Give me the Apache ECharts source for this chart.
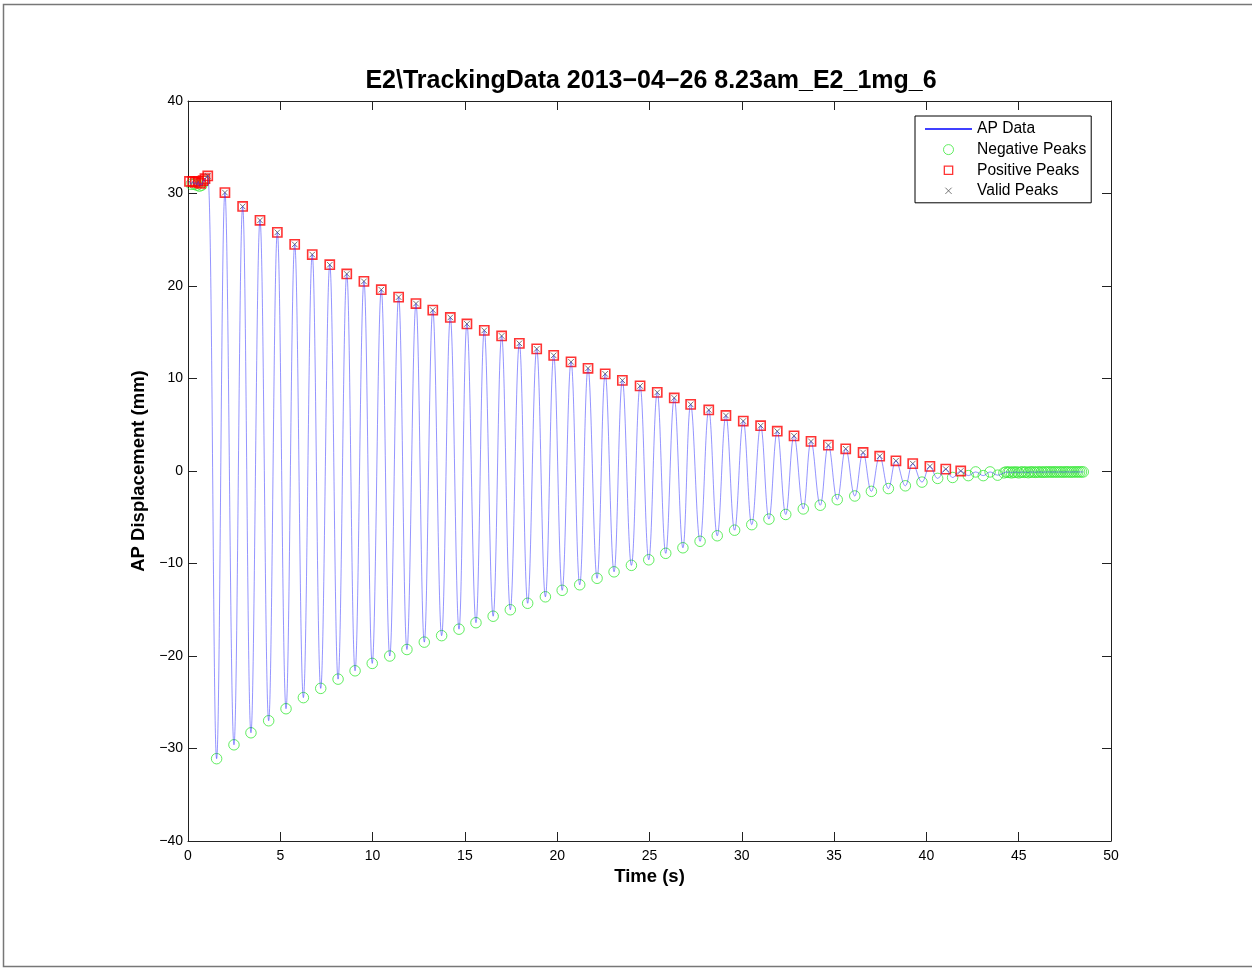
<!DOCTYPE html>
<html>
<head>
<meta charset="utf-8">
<script src="https://cdn.jsdelivr.net/npm/echarts@6/dist/echarts.min.js"></script>
<style>
  html, body { margin: 0; padding: 0; background: #fff; }
  #main { width: 1252px; height: 969px; }
</style>
</head>
<body>
<div id="main"></div>
<script>
// positive peaks (red squares)
var posT = [0.08, 0.25, 0.40, 0.55, 0.68, 0.82, 0.92, 1.07,
  2.00, 2.96, 3.90, 4.84, 5.78, 6.73, 7.68, 8.60, 9.53, 10.47,
  11.41, 12.35, 13.26, 14.21, 15.11, 16.05, 16.99, 17.95, 18.89, 19.81,
  20.75, 21.67, 22.60, 23.53, 24.49, 25.42, 26.34, 27.23, 28.21, 29.14,
  30.08, 31.02, 31.92, 32.83, 33.75, 34.69, 35.63, 36.57, 37.47, 38.35,
  39.26, 40.19, 41.05, 41.86];
var posV = [31.3, 31.3, 31.2, 31.3, 31.1, 31.4, 31.6, 31.9,
  30.1, 28.6, 27.1, 25.8, 24.5, 23.4, 22.3, 21.3, 20.5, 19.6,
  18.8, 18.1, 17.4, 16.6, 15.9, 15.2, 14.6, 13.8, 13.2, 12.5,
  11.8, 11.1, 10.5, 9.8, 9.2, 8.5, 7.9, 7.2, 6.6, 6.0,
  5.4, 4.9, 4.3, 3.8, 3.2, 2.8, 2.4, 2.0, 1.6, 1.1,
  0.8, 0.5, 0.2, 0.0];

// negative peaks (green circles)
var negT = [0.17, 0.33, 0.48, 0.62, 0.75, 0.88,
  1.55, 2.49, 3.41, 4.37, 5.31, 6.25, 7.19, 8.13, 9.05, 9.98,
  10.93, 11.86, 12.80, 13.74, 14.68, 15.60, 16.53, 17.46, 18.40, 19.36,
  20.27, 21.22, 22.16, 23.08, 24.02, 24.96, 25.88, 26.81, 27.74, 28.67,
  29.61, 30.54, 31.47, 32.38, 33.33, 34.25, 35.17, 36.12, 37.02, 37.94,
  38.86, 39.76, 40.61, 41.42, 42.27, 42.67, 43.08, 43.45, 43.86, 44.20,
  44.31, 44.42, 44.50, 44.61, 44.70, 44.79, 44.91, 45.00, 45.12, 45.20,
  45.31, 45.40, 45.52, 45.61, 45.70, 45.81, 45.90, 46.01, 46.10, 46.22,
  46.30, 46.41, 46.50, 46.60, 46.71, 46.80, 46.91, 47.00, 47.10, 47.21,
  47.30, 47.40, 47.51, 47.60, 47.70, 47.81, 47.90, 48.00, 48.11, 48.20,
  48.30, 48.40, 48.50];
var negV = [31.0, 31.0, 30.9, 30.8, 30.9, 31.3,
  -31.1, -29.6, -28.3, -27.0, -25.7, -24.5, -23.5, -22.5, -21.6, -20.8,
  -20.0, -19.3, -18.5, -17.8, -17.1, -16.4, -15.7, -15.0, -14.3, -13.6,
  -12.9, -12.3, -11.6, -10.9, -10.2, -9.6, -8.9, -8.3, -7.6, -7.0,
  -6.4, -5.8, -5.2, -4.7, -4.1, -3.7, -3.1, -2.7, -2.2, -1.9,
  -1.6, -1.2, -0.8, -0.7, -0.5, -0.1, -0.5, -0.1, -0.45, -0.2,
  -0.1, -0.15, -0.1, -0.2, -0.1, -0.15, -0.1, -0.2, -0.12, -0.1,
  -0.15, -0.1, -0.18, -0.1, -0.12, -0.1, -0.15, -0.1, -0.12, -0.1,
  -0.14, -0.1, -0.12, -0.1, -0.1, -0.12, -0.1, -0.1, -0.12, -0.1,
  -0.1, -0.12, -0.1, -0.1, -0.1, -0.12, -0.1, -0.1, -0.1, -0.1,
  -0.1, -0.1, -0.1];

// valid peaks (grey crosses) start at the first real swing
var validT = posT.slice(7);
var validV = posV.slice(7);

var xTicks = { min: 0, max: 50, interval: 5 };
var yTicks = { min: -40, max: 40, interval: 10 };

function pairs(t, v) {
  var out = [];
  for (var i = 0; i < t.length; i++) out.push([t[i], v[i]]);
  return out;
}

// AP data trace: start value plus all peaks in time order
var apData = pairs([0], [31.2]).concat(pairs(posT, posV), pairs(negT, negV));
apData.sort(function (a, b) { return a[0] - b[0]; });

var FONT = 'Liberation Sans, Arial, sans-serif';
var SQ = 'path://M-1,-1M11,11M0,0L10,0L10,10L0,10Z';
var XM = 'path://M-3,-3M13,13M0,0L10,10M10,0L0,10';
var LINE_ICON = 'path://M0,4.2L47,4.2L47,5.8L0,5.8Z';

function minus(v) { return v < 0 ? '\u2212' + (-v) : '' + v; }

function axisCommon() {
  return {
    axisLine: { onZero: false, lineStyle: { color: '#222', width: 1 } },
    axisTick: { inside: true, length: 9, lineStyle: { color: '#222', width: 1 } },
    splitLine: { show: false }
  };
}

var myChart = echarts.init(document.getElementById('main'), null, { renderer: 'canvas' });

myChart.setOption({
  animation: false,
  backgroundColor: '#fff',
  title: {
    text: 'E2\\TrackingData 2013\u221204\u221226 8.23am_E2_1mg_6',
    left: 651,
    top: 69,
    padding: 0,
    textAlign: 'center',
    textStyle: { fontFamily: FONT, fontSize: 25, fontWeight: 'bold', color: '#000' }
  },
  graphic: [{
    type: 'rect',
    shape: { x: 3.5, y: 4.5, width: 1300, height: 962 },
    style: { fill: 'none', stroke: '#777', lineWidth: 1.5 },
    silent: true, z: -10
  }],
  grid: { left: 188, top: 101, width: 923, height: 740, containLabel: false, outerBoundsMode: 'none' },
  legend: {
    orient: 'vertical',
    left: 915,
    top: 116,
    padding: [5, 5, 4, 10],
    itemWidth: 47,
    itemHeight: 10,
    itemGap: 4.6,
    selectedMode: false,
    backgroundColor: '#fff',
    borderColor: '#000',
    borderWidth: 1,
    borderRadius: 0,
    textStyle: { fontFamily: FONT, fontSize: 15.6, color: '#000', lineHeight: 15 },
    data: [
      {
        name: 'AP Data', icon: LINE_ICON,
        itemStyle: { color: '#0000ff', borderWidth: 0, opacity: 1 },
        lineStyle: { color: '#0000ff', width: 1, opacity: 1 }
      },
      { name: 'Negative Peaks', itemStyle: { borderWidth: 1 } },
      { name: 'Positive Peaks', itemStyle: { borderWidth: 1.3 } },
      { name: 'Valid Peaks', itemStyle: { borderWidth: 1 } }
    ]
  },
  xAxis: [
    Object.assign(axisCommon(), {
      type: 'value', position: 'bottom',
      min: xTicks.min, max: xTicks.max, interval: xTicks.interval,
      name: 'Time (s)', nameLocation: 'middle', nameGap: 25,
      nameTextStyle: { fontFamily: FONT, fontSize: 18.5, fontWeight: 'bold', color: '#000' },
      axisLabel: { margin: 8, fontFamily: FONT, fontSize: 14, color: '#000' }
    }),
    Object.assign(axisCommon(), {
      type: 'value', position: 'top',
      min: xTicks.min, max: xTicks.max, interval: xTicks.interval,
      axisLabel: { show: false }
    })
  ],
  yAxis: [
    Object.assign(axisCommon(), {
      type: 'value', position: 'left',
      min: yTicks.min, max: yTicks.max, interval: yTicks.interval,
      name: 'AP Displacement (mm)', nameLocation: 'middle', nameGap: 36,
      nameTextStyle: { fontFamily: FONT, fontSize: 18.5, fontWeight: 'bold', color: '#000' },
      axisLabel: { margin: 5, fontFamily: FONT, fontSize: 14, color: '#000', formatter: minus }
    }),
    Object.assign(axisCommon(), {
      type: 'value', position: 'right',
      min: yTicks.min, max: yTicks.max, interval: yTicks.interval,
      axisLabel: { show: false }
    })
  ],
  series: [
    {
      name: 'AP Data',
      type: 'line',
      data: apData,
      symbol: 'none',
      smooth: 0.4,
      color: '#0000ff',
      lineStyle: { color: 'rgba(42,42,255,0.5)', width: 1 },
      itemStyle: { color: '#0000ff' }
    },
    {
      name: 'Negative Peaks',
      type: 'scatter',
      data: pairs(negT, negV),
      symbol: 'circle',
      symbolSize: 10.5,
      itemStyle: { color: 'rgba(0,0,0,0)', borderColor: '#3ae83a', borderWidth: 1 }
    },
    {
      name: 'Positive Peaks',
      type: 'scatter',
      data: pairs(posT, posV),
      symbol: SQ,
      symbolSize: 11,
      itemStyle: { color: 'rgba(0,0,0,0)', borderColor: '#ff0000', borderWidth: 1.6 }
    },
    {
      name: 'Valid Peaks',
      type: 'scatter',
      data: pairs(validT, validV),
      symbol: XM,
      symbolSize: 9,
      itemStyle: { color: 'rgba(0,0,0,0)', borderColor: '#555', borderWidth: 1 }
    }
  ]
});
</script>
</body>
</html>
